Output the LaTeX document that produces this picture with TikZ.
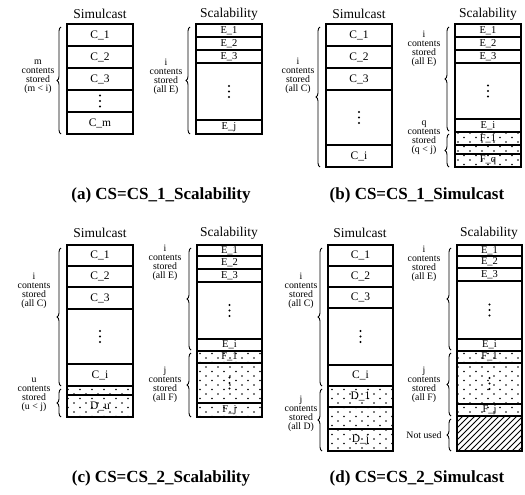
\documentclass[tikz,border=0pt]{standalone}
\usepackage{fontspec}
\setmainfont{Liberation Serif}
\usetikzlibrary{decorations.pathreplacing,patterns}
\pgfdeclarepatternformonly{sparsedots}{\pgfqpoint{-1pt}{-1pt}}{\pgfqpoint{13pt}{10pt}}{\pgfqpoint{12pt}{9pt}}{%
  \pgfpathcircle{\pgfqpoint{2pt}{2pt}}{0.85pt}%
  \pgfpathcircle{\pgfqpoint{8pt}{6.5pt}}{0.85pt}%
  \pgfusepath{fill}}
\pgfdeclarepatternformonly{widehatch}{\pgfqpoint{-1pt}{-1pt}}{\pgfqpoint{7pt}{7pt}}{\pgfqpoint{6pt}{6pt}}{%
  \pgfsetlinewidth{0.9pt}%
  \pgfpathmoveto{\pgfqpoint{0pt}{0pt}}%
  \pgfpathlineto{\pgfqpoint{6.1pt}{6.1pt}}%
  \pgfusepath{stroke}}
\newcommand\stackcell[7]{%
  \node[cellbox,#6,minimum width={#4pt-#2pt},minimum height={#5pt-#3pt}] (#1) at ({(#2+#4)/2},{(#3+#5)/2}) {#7};}
\newcommand\threedots[1]{%
  \fill ([yshift=5.5pt]#1.center) circle (1.2pt);
  \fill (#1.center) circle (1.2pt);
  \fill ([yshift=-5.5pt]#1.center) circle (1.2pt);}
\begin{document}
\begin{tikzpicture}[x=1pt,y=-1pt,
  cellbox/.style={draw=black,line width=1.1pt,inner sep=0pt,outer sep=0pt,font=\fontsize{11.5}{11.5}\selectfont},
  small/.style={font=\fontsize{10.5}{10.5}\selectfont},
  dotfill/.style={pattern=sparsedots},
  hatchfill/.style={pattern=widehatch},
  outerbox/.style={draw=black,line width=1.7pt},
  header/.style={font=\fontsize{13.5}{13.5}\selectfont},
  sidelabel/.style={align=center,inner sep=0pt,font=\fontsize{9.8}{9}\selectfont},
  caption/.style={font=\fontsize{17}{17}\selectfont\bfseries},
  brc/.style={decorate,decoration={brace,amplitude=4pt},line width=0.9pt}]
\useasboundingbox (0,0) rectangle (525,495);

% ---------------- (a)
\node[header] (hsa) at (100,14) {Simulcast};
\node[header] (hca) at (229,14) {Scalability};
\stackcell{a1}{67}{24}{133}{46}{}{C\_1}
\stackcell{a2}{67}{46}{133}{68}{}{C\_2}
\stackcell{a3}{67}{68}{133}{90}{}{C\_3}
\stackcell{a4}{67}{90}{133}{112}{}{}
\stackcell{a5}{67}{112}{133}{134}{}{C\_m}
\draw[outerbox] (a1.north west) rectangle (a5.south east);
\threedots{a4}
\stackcell{a6}{196}{24}{262}{37}{small}{E\_1}
\stackcell{a7}{196}{37}{262}{50}{small}{E\_2}
\stackcell{a8}{196}{50}{262}{63}{small}{E\_3}
\stackcell{a9}{196}{63}{262}{120}{}{}
\stackcell{a10}{196}{120}{262}{134}{small}{E\_j}
\draw[outerbox] (a6.north west) rectangle (a10.south east);
\threedots{a9}
\coordinate (ba1t) at (61,27); \coordinate (ba1b) at (61,134);
\draw[brc] (ba1b) -- (ba1t);
\node[sidelabel] (la1) at (38,77) {m\\contents\\stored\\(m < i)};
\coordinate (ba2t) at (190,27); \coordinate (ba2b) at (190,134);
\draw[brc] (ba2b) -- (ba2t);
\node[sidelabel] (la2) at (166,77) {i\\contents\\stored\\(all E)};
\node[caption] (capa) at (161,195) {(a) CS=CS\_1\_Scalability};

% ---------------- (b)
\node[header] (hsb) at (359,14) {Simulcast};
\node[header] (hcb) at (488,14) {Scalability};
\stackcell{b1}{326}{24}{392}{46}{}{C\_1}
\stackcell{b2}{326}{46}{392}{68}{}{C\_2}
\stackcell{b3}{326}{68}{392}{90}{}{C\_3}
\stackcell{b4}{326}{90}{392}{145}{}{}
\stackcell{b5}{326}{145}{392}{167}{}{C\_i}
\draw[outerbox] (b1.north west) rectangle (b5.south east);
\threedots{b4}
\stackcell{b6}{455}{24}{521}{37}{small}{E\_1}
\stackcell{b7}{455}{37}{521}{50}{small}{E\_2}
\stackcell{b8}{455}{50}{521}{63}{small}{E\_3}
\stackcell{b9}{455}{63}{521}{119}{}{}
\stackcell{b10}{455}{119}{521}{132}{small}{E\_i}
\stackcell{b11}{455}{132}{521}{145}{small,dotfill}{F\_1}
\stackcell{b12}{455}{145}{521}{154}{dotfill}{}
\stackcell{b13}{455}{154}{521}{167}{small,dotfill}{F\_q}
\draw[outerbox] (b6.north west) rectangle (b13.south east);
\threedots{b9}
\coordinate (bb1t) at (320,27); \coordinate (bb1b) at (320,167);
\draw[brc] (bb1b) -- (bb1t);
\node[sidelabel] (lb1) at (298,76) {i\\contents\\stored\\(all C)};
\coordinate (bb2t) at (449,27); \coordinate (bb2b) at (449,131);
\draw[brc] (bb2b) -- (bb2t);
\node[sidelabel] (lb2) at (424,49) {i\\contents\\stored\\(all E)};
\coordinate (bb3t) at (449,134); \coordinate (bb3b) at (449,167);
\draw[brc] (bb3b) -- (bb3t);
\node[sidelabel] (lb3) at (424,138) {q\\contents\\stored\\(q < j)};
\node[caption] (capb) at (417,195) {(b) CS=CS\_1\_Simulcast};

% ---------------- (c)
\node[header] (hsc) at (100,233) {Simulcast};
\node[header] (hcc) at (229,233) {Scalability};
\stackcell{c1}{67}{245}{133}{266}{}{C\_1}
\stackcell{c2}{67}{266}{133}{287}{}{C\_2}
\stackcell{c3}{67}{287}{133}{309}{}{C\_3}
\stackcell{c4}{67}{309}{133}{364}{}{}
\stackcell{c5}{67}{364}{133}{386}{}{C\_i}
\stackcell{c6}{67}{386}{133}{395}{dotfill}{}
\stackcell{c7}{67}{395}{133}{417}{dotfill}{D\_u}
\draw[outerbox] (c1.north west) rectangle (c7.south east);
\threedots{c4}
\stackcell{c8}{197}{245}{262}{256}{small}{E\_1}
\stackcell{c9}{197}{256}{262}{269}{small}{E\_2}
\stackcell{c10}{197}{269}{262}{282}{small}{E\_3}
\stackcell{c11}{197}{282}{262}{339}{}{}
\stackcell{c12}{197}{339}{262}{351}{small}{E\_i}
\stackcell{c13}{197}{351}{262}{363}{small,dotfill}{F\_1}
\stackcell{c14}{197}{363}{262}{403}{dotfill}{}
\stackcell{c15}{197}{403}{262}{417}{small,dotfill}{F\_j}
\draw[outerbox] (c8.north west) rectangle (c15.south east);
\threedots{c11}
\threedots{c14}
\coordinate (bc1t) at (61,248); \coordinate (bc1b) at (61,386);
\draw[brc] (bc1b) -- (bc1t);
\node[sidelabel] (lc1) at (34,291) {i\\contents\\stored\\(all C)};
\coordinate (bc2t) at (61,389); \coordinate (bc2b) at (61,417);
\draw[brc] (bc2b) -- (bc2t);
\node[sidelabel] (lc2) at (34,395) {u\\contents\\stored\\(u < j)};
\coordinate (bc3t) at (191,248); \coordinate (bc3b) at (191,350);
\draw[brc] (bc3b) -- (bc3t);
\node[sidelabel] (lc3) at (165,263) {i\\contents\\stored\\(all E)};
\coordinate (bc4t) at (191,353); \coordinate (bc4b) at (191,417);
\draw[brc] (bc4b) -- (bc4t);
\node[sidelabel] (lc4) at (165,385) {j\\contents\\stored\\(all F)};
\node[caption] (capc) at (161,478) {(c) CS=CS\_2\_Scalability};

% ---------------- (d)
\node[header] (hsd) at (360,233) {Simulcast};
\node[header] (hcd) at (489,233) {Scalability};
\stackcell{d1}{328}{245}{393}{266}{}{C\_1}
\stackcell{d2}{328}{266}{393}{287}{}{C\_2}
\stackcell{d3}{328}{287}{393}{308}{}{C\_3}
\stackcell{d4}{328}{308}{393}{365}{}{}
\stackcell{d5}{328}{365}{393}{386}{}{C\_i}
\stackcell{d6}{328}{386}{393}{407}{dotfill}{D\_1}
\stackcell{d7}{328}{407}{393}{429}{dotfill}{}
\stackcell{d8}{328}{429}{393}{451}{dotfill}{D\_j}
\draw[outerbox] (d1.north west) rectangle (d8.south east);
\threedots{d4}
\stackcell{d9}{457}{245}{522}{256}{small}{E\_1}
\stackcell{d10}{457}{256}{522}{268}{small}{E\_2}
\stackcell{d11}{457}{268}{522}{281}{small}{E\_3}
\stackcell{d12}{457}{281}{522}{339}{}{}
\stackcell{d13}{457}{339}{522}{351}{small}{E\_i}
\stackcell{d14}{457}{351}{522}{363}{small,dotfill}{F\_1}
\stackcell{d15}{457}{363}{522}{404}{dotfill}{}
\stackcell{d16}{457}{404}{522}{416}{small,dotfill}{F\_j}
\stackcell{d17}{457}{416}{522}{451}{hatchfill}{}
\draw[outerbox] (d9.north west) rectangle (d17.south east);
\threedots{d12}
\threedots{d15}
\coordinate (bd1t) at (322,248); \coordinate (bd1b) at (322,386);
\draw[brc] (bd1b) -- (bd1t);
\node[sidelabel] (ld1) at (301,291) {i\\contents\\stored\\(all C)};
\coordinate (bd2t) at (322,389); \coordinate (bd2b) at (322,451);
\draw[brc] (bd2b) -- (bd2t);
\node[sidelabel] (ld2) at (301,414) {j\\contents\\stored\\(all D)};
\coordinate (bd3t) at (451,248); \coordinate (bd3b) at (451,350);
\draw[brc] (bd3b) -- (bd3t);
\node[sidelabel] (ld3) at (424,264) {i\\contents\\stored\\(all E)};
\coordinate (bd4t) at (451,353); \coordinate (bd4b) at (451,416);
\draw[brc] (bd4b) -- (bd4t);
\node[sidelabel] (ld4) at (424,385) {j\\contents\\stored\\(all F)};
\coordinate (bd5t) at (451,419); \coordinate (bd5b) at (451,451);
\draw[brc] (bd5b) -- (bd5t);
\node[sidelabel] (ld5) at (424,435) {Not used};
\node[caption] (capd) at (417,478) {(d) CS=CS\_2\_Simulcast};
\end{tikzpicture}
\end{document}
